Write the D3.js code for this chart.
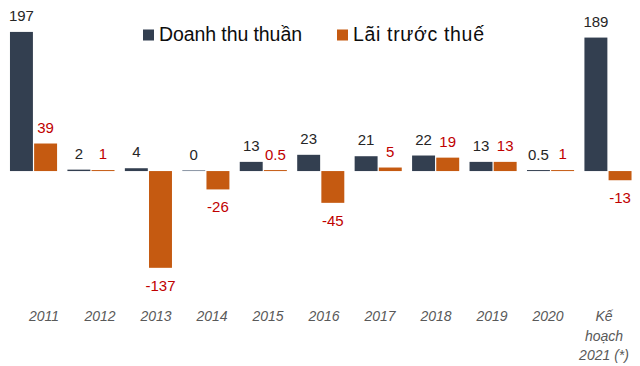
<!DOCTYPE html>
<html>
<head>
<meta charset="utf-8">
<script src="https://cdn.jsdelivr.net/npm/d3@7/dist/d3.min.js"></script>
<style>
	body { margin: 0; background: #ffffff; }
	svg { display: block; font-family: "Liberation Sans", Arial, sans-serif; }
</style>
</head>
<body>
<div id="chart"></div>
<script>
// data (ty dong)
const categories = ['2011', '2012', '2013', '2014', '2015', '2016', '2017', '2018', '2019', '2020', 'KH2021'];
const categoryLabels = [['2011'], ['2012'], ['2013'], ['2014'], ['2015'], ['2016'], ['2017'], ['2018'], ['2019'], ['2020'], ['Kế', 'hoạch', '2021 (*)']];
const revenue = [197, 2, 4, 0, 13, 23, 21, 22, 13, 0.5, 189];
const profit = [39, 1, -137, -26, 0.5, -45, 5, 19, 13, 1, -13];
const seriesNames = ['Doanh thu thuần', 'Lãi trước thuế'];
const seriesColors = ['#333f50', '#c55a11'];
const labelColors = ['#262626', '#c00000'];

const width = 640, height = 366;

const data = categories.map((c, i) => ({ cat: c, values: [revenue[i], profit[i]] }));

const svg = d3.select('#chart').append('svg')
	.attr('width', width)
	.attr('height', height);

const x0 = d3.scaleBand()
	.domain(categories)
	.range([4.8, 636.7])
	.paddingInner(0.18)
	.paddingOuter(0.09);

const x1 = d3.scaleBand()
	.domain([0, 1])
	.range([0, x0.bandwidth()])
	.paddingInner(0.05);

// axis labels sit on their own, slightly tighter spacing
const xLabel = d3.scalePoint()
	.domain(categories)
	.range([44, 604]);

const y = d3.scaleLinear()
	.domain([-150, 200])
	.range([277, 29.8]);

const groups = svg.append('g').selectAll('g.group')
	.data(data)
	.join('g')
	.attr('class', 'group')
	.attr('transform', d => 'translate(' + x0(d.cat) + ',0)');

const bars = groups.selectAll('g.bar')
	.data(d => d.values.map((v, s) => ({ v: v, s: s })))
	.join('g')
	.attr('class', 'bar');

bars.append('rect')
	.attr('x', d => x1(d.s))
	.attr('width', x1.bandwidth())
	.attr('y', d => d.v >= 0 ? Math.min(y(d.v), y(0) - 1) : y(0))
	.attr('height', d => Math.max(Math.abs(y(d.v) - y(0)), 1))
	.attr('fill', d => d.v === 0 ? '#8b96a4' : seriesColors[d.s]);

bars.append('text')
	.attr('x', d => x1(d.s) + x1.bandwidth() / 2)
	.attr('y', d => d.v >= 0 ? y(d.v) - 11 : y(d.v) + 23)
	.attr('text-anchor', 'middle')
	.style('font-size', '15px')
	.style('fill', d => labelColors[d.s])
	.text(d => String(d.v));

// category labels
const xLabels = svg.append('g').selectAll('text')
	.data(categories)
	.join('text')
	.attr('x', d => xLabel(d))
	.attr('y', 321)
	.attr('text-anchor', 'middle')
	.style('font-size', '14px')
	.style('font-style', 'italic')
	.style('fill', '#595959');

xLabels.selectAll('tspan')
	.data((d, i) => categoryLabels[i])
	.join('tspan')
	.attr('x', function() { return d3.select(this.parentNode).attr('x'); })
	.attr('dy', (d, i) => i === 0 ? 0 : 19.5)
	.text(d => d);

// legend: [square x, text x, text width]
const legendPos = [[143, 159, 143], [337, 353, 131]];
const legend = svg.append('g').selectAll('g')
	.data(seriesNames)
	.join('g');

legend.append('rect')
	.attr('x', (d, i) => legendPos[i][0])
	.attr('y', 29.5)
	.attr('width', 11)
	.attr('height', 11)
	.attr('fill', (d, i) => seriesColors[i]);

legend.append('text')
	.attr('x', (d, i) => legendPos[i][1])
	.attr('y', 40.5)
	.attr('textLength', (d, i) => legendPos[i][2])
	.attr('lengthAdjust', 'spacing')
	.style('font-size', '19.5px')
	.style('fill', '#0d0d0d')
	.text(d => d);
</script>
</body>
</html>
